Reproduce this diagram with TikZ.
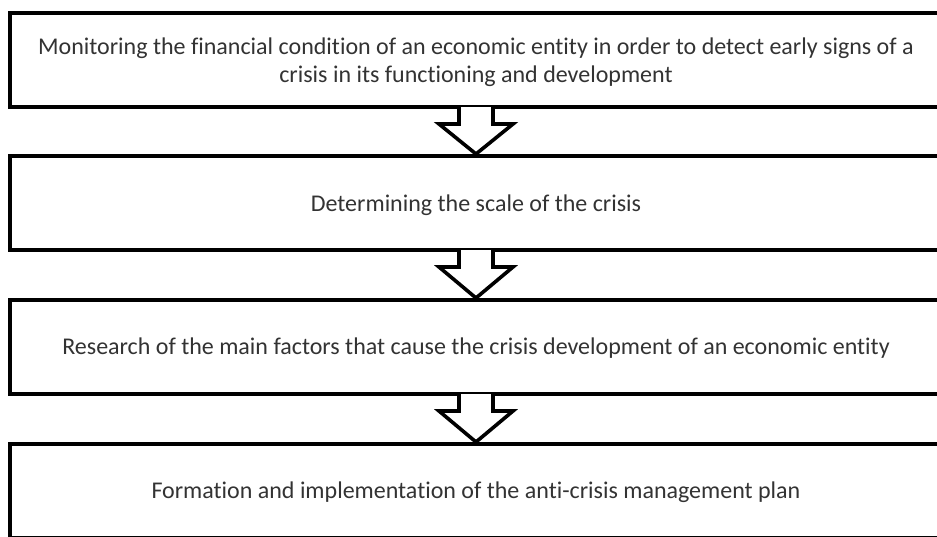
\documentclass[tikz,border=0pt]{standalone}
\usepackage{fontspec}
\setmainfont{Carlito}[Ligatures=NoCommon]
\definecolor{txt}{HTML}{333333}
\begin{document}
\begin{tikzpicture}[x=1pt,y=-1pt,
  stepbox/.style={draw=black,line width=4pt,fill=white,minimum width=932pt,minimum height=94pt,
    text=txt,align=center,font=\fontsize{24}{28}\selectfont,inner sep=0pt},
  blockarrow/.style={draw=black,fill=white,line width=3.6pt,line join=miter}]
\useasboundingbox (0,0) rectangle (937,536);
\clip (0,0) rectangle (937,536);
\node[stepbox] (b1) at (476,60) {};
\node[text=txt,align=center,font=\fontsize{24}{28}\selectfont,inner sep=0pt] (t1) at (476,62) {Monitoring the financial condition of an economic entity in order to detect early signs of a\\crisis in its functioning and development};
\node[stepbox] (b2) at (476,203) {};
\node[text=txt,font=\fontsize{24}{28}\selectfont,inner sep=0pt] (t2) at (476,205) {Determining the scale of the crisis};
\node[stepbox] (b3) at (476,347) {};
\node[text=txt,font=\fontsize{24}{28}\selectfont,inner sep=0pt] (t3) at (476,348) {Research of the main factors that cause the crisis development of an economic entity};
\node[stepbox] (b4) at (476,491) {};
\node[text=txt,font=\fontsize{24}{28}\selectfont,inner sep=0pt] (t4) at (476,492) {Formation and implementation of the anti-crisis management plan};
\foreach \a/\b in {b1/b2,b2/b3,b3/b4}{
  \fill[white] ([xshift=-17pt,yshift=2pt]\a.south) rectangle ([xshift=17pt,yshift=-2pt]\a.south);
  \filldraw[blockarrow] ([xshift=-17pt,yshift=2pt]\a.south) -- ([xshift=-17pt,yshift=-15pt]\a.south)
    -- ([xshift=-37pt,yshift=-15pt]\a.south) -- (\b.north)
    -- ([xshift=37pt,yshift=-15pt]\a.south) -- ([xshift=17pt,yshift=-15pt]\a.south)
    -- ([xshift=17pt,yshift=2pt]\a.south);
}
\end{tikzpicture}
\end{document}
